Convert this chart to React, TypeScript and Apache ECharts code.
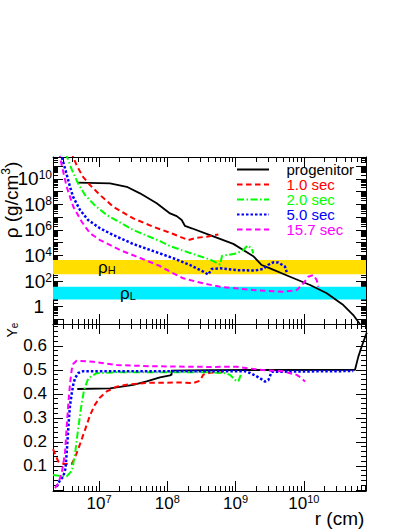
import React, { useEffect, useRef } from 'react';
import * as echarts from 'echarts';

const FONT = '"Liberation Sans", Arial, Helvetica, sans-serif';

// ---------- axis ranges (log10 r, log10 rho, Ye) ----------
const X_MIN = 6.3265;
const X_MAX = 10.909;
const RHO_MIN = -1.35;
const RHO_MAX = 11.7;
const YE_MIN = -0.005;
const YE_MAX = 0.691;

// ---------- tick labels ----------
const xLabelDecades = [7, 8, 9, 10];
const rhoLabelDecades = [0, 2, 4, 6, 8, 10];
const yeLabels = [0.1, 0.2, 0.3, 0.4, 0.5, 0.6];

// ---------- series ----------
const seriesNames = ['progenitor', '1.0 sec', '2.0 sec', '5.0 sec', '15.7 sec'];
const seriesColors = ['#000000', '#ff0000', '#00ff00', '#0000ff', '#ff00ff'];

// density panel: log10(r/cm), log10(rho/(g/cm^3))
const progenitorLogR = [6.682, 7.161, 7.406, 7.6, 7.845, 8.04, 8.138, 8.211, 8.259, 8.357, 8.625, 8.966, 9.259, 9.382, 9.504, 9.797, 10.09, 10.334, 10.577, 10.723, 10.811, 10.87];
const progenitorLogRho = [9.69, 9.64, 9.37, 8.86, 8.08, 7.29, 7.08, 6.78, 6.31, 6.13, 5.6, 4.91, 3.95, 3.26, 3.0, 2.34, 1.7, 1.05, 0.13, -0.65, -1.29, -1.88];

const t1LogR = [6.6, 6.619, 6.678, 6.766, 6.868, 7.015, 7.209, 7.502, 7.795, 8.088, 8.307, 8.43, 8.577, 8.747];
const t1LogRho = [12.12, 11.72, 10.99, 10.14, 9.51, 8.73, 7.81, 6.9, 6.25, 5.68, 5.21, 5.39, 5.47, 5.65];

const t2LogR = [6.517, 6.531, 6.605, 6.693, 6.795, 6.941, 7.113, 7.502, 7.893, 8.04, 8.332, 8.625, 8.772, 8.801, 9.016, 9.113, 9.174, 9.236, 9.259];
const t2LogRho = [12.01, 11.72, 10.68, 9.64, 8.73, 7.91, 7.17, 5.99, 5.13, 4.74, 4.2, 3.69, 3.3, 3.97, 4.17, 4.43, 4.78, 4.56, 4.17];

const t5LogR = [6.444, 6.454, 6.517, 6.561, 6.619, 6.722, 6.839, 7.015, 7.209, 7.502, 7.795, 8.088, 8.332, 8.527, 8.6, 8.65, 8.772, 9.016, 9.284, 9.401, 9.474, 9.552, 9.625, 9.723, 9.748];
const t5LogRho = [12.01, 11.72, 10.53, 9.64, 8.6, 7.56, 6.78, 6.13, 5.6, 4.9, 4.35, 3.79, 3.26, 2.74, 2.51, 2.95, 3.0, 2.86, 2.83, 2.95, 3.26, 3.47, 3.46, 3.13, 2.71];

const t15LogR = [6.42, 6.429, 6.454, 6.527, 6.624, 6.747, 6.868, 7.015, 7.307, 7.6, 7.893, 8.04, 8.234, 8.527, 8.772, 9.259, 9.698, 9.895, 9.991, 10.064, 10.138, 10.187, 10.211];
const t15LogRho = [12.12, 11.72, 11.07, 9.37, 7.81, 6.64, 5.74, 5.21, 4.43, 3.81, 3.18, 2.74, 2.22, 1.82, 1.56, 1.3, 1.17, 1.3, 1.82, 2.34, 2.48, 2.09, 1.56];

// electron fraction panel
const progenitorYeLogR = [6.682, 7.161, 7.502, 7.698, 7.893, 8.04, 8.062, 8.064, 8.625, 10.748, 10.797, 10.846, 10.92];
const progenitorYe = [0.42, 0.423, 0.437, 0.452, 0.469, 0.477, 0.48, 0.497, 0.499, 0.5, 0.555, 0.597, 0.655];

const t1YeLogR = [6.327, 6.356, 6.404, 6.477, 6.6, 6.649, 6.722, 6.795, 6.868, 6.941, 7.015, 7.113, 7.259, 7.454, 7.747, 8.186, 8.381, 8.479, 8.527, 8.625, 8.845];
const t1Ye = [0.17, 0.15, 0.118, 0.108, 0.108, 0.135, 0.19, 0.25, 0.31, 0.355, 0.385, 0.41, 0.43, 0.44, 0.446, 0.447, 0.445, 0.455, 0.48, 0.488, 0.49];

const t2YeLogR = [6.327, 6.429, 6.527, 6.605, 6.649, 6.693, 6.736, 6.78, 6.843, 6.966, 7.259, 8.625, 8.845, 8.918, 8.991, 9.04, 9.075];
const t2Ye = [0.062, 0.058, 0.056, 0.08, 0.15, 0.25, 0.34, 0.415, 0.465, 0.486, 0.49, 0.49, 0.486, 0.479, 0.458, 0.451, 0.479];

const t5YeLogR = [6.381, 6.429, 6.477, 6.51, 6.531, 6.553, 6.575, 6.6, 6.624, 6.649, 6.697, 6.766, 9.138, 9.211, 9.259, 9.357, 9.43, 9.479, 9.529, 10.723];
const t5Ye = [0.013, 0.04, 0.055, 0.09, 0.17, 0.27, 0.35, 0.4, 0.44, 0.465, 0.487, 0.494, 0.494, 0.487, 0.48, 0.465, 0.451, 0.457, 0.492, 0.495];

const t15YeLogR = [6.356, 6.404, 6.454, 6.502, 6.527, 6.551, 6.575, 6.6, 6.624, 6.673, 6.917, 7.259, 7.747, 8.625, 9.016, 9.357, 9.698, 9.797, 9.895, 9.968, 10.016];
const t15Ye = [0.007, 0.027, 0.069, 0.152, 0.263, 0.36, 0.44, 0.5, 0.525, 0.538, 0.534, 0.52, 0.515, 0.512, 0.513, 0.5, 0.494, 0.486, 0.479, 0.465, 0.451];

// resonance density bands (log10 rho)
const bandNames = ['H', 'L'];
const bandLow = [2.53, 0.57];
const bandHigh = [3.65, 1.56];
const bandColors = ['#ffde00', '#00eeff'];

const rhoR = [progenitorLogR, t1LogR, t2LogR, t5LogR, t15LogR];
const rhoV = [progenitorLogRho, t1LogRho, t2LogRho, t5LogRho, t15LogRho];
const yeR = [progenitorYeLogR, t1YeLogR, t2YeLogR, t5YeLogR, t15YeLogR];
const yeV = [progenitorYe, t1Ye, t2Ye, t5Ye, t15Ye];

const dashes: any[] = ['solid', [5.5, 3.5], [7, 2.5, 1.5, 2.5], [2.5, 2], [5.5, 3.5]];
const widths = [1.8, 2, 2, 2.5, 2];

const zip = (a: number[], b: number[]) => a.map((v, i) => [v, b[i]]);

function logMinors(from: number, to: number, lo: number, hi: number) {
  const out: number[] = [];
  for (let n = from; n <= to; n++) {
    for (let k = 2; k <= 9; k++) {
      const v = n + Math.log10(k);
      if (v > lo && v < hi) out.push(v);
    }
  }
  return out;
}
function ints(from: number, to: number, lo: number, hi: number) {
  const out: number[] = [];
  for (let n = from; n <= to; n++) if (n >= lo && n <= hi) out.push(n);
  return out;
}

const xMajor = ints(6, 11, X_MIN, X_MAX);
const xMinor = logMinors(6, 10, X_MIN, X_MAX);
const rhoMajor = ints(-2, 12, RHO_MIN, RHO_MAX);
const rhoMinor = logMinors(-2, 11, RHO_MIN, RHO_MAX);
const yeMajor = [0, 0.1, 0.2, 0.3, 0.4, 0.5, 0.6];
const yeMinor: number[] = [];
for (let i = 1; i <= 34; i++) if (i % 5 !== 0) yeMinor.push(+(i * 0.02).toFixed(2));

const BLACK = { color: '#000', width: 1 };

function axisSet(kind: 'x' | 'y', grid: number, min: number, max: number, major: number[], minor: number[], primary: any) {
  const pos = kind === 'x' ? ['bottom', 'top'] : ['left', 'right'];
  const base = {
    type: 'value',
    gridIndex: grid,
    min,
    max,
    splitLine: { show: false },
    minorTick: { show: false },
    nameMoveOverlap: false,
  };
  const res: any[] = [];
  pos.forEach((p, i) => {
    res.push({
      ...base,
      position: p,
      axisLine: { show: true, onZero: false, lineStyle: BLACK },
      axisTick: { show: true, inside: true, length: 10, customValues: major, lineStyle: BLACK },
      axisLabel: { show: false },
      ...(i === 0 ? primary : {}),
    });
    res.push({
      ...base,
      position: p,
      axisLine: { show: false, onZero: false },
      axisTick: { show: true, inside: true, length: 5, customValues: minor, lineStyle: BLACK },
      axisLabel: { show: false },
    });
  });
  return res;
}

export default function App() {
  const ref = useRef<HTMLDivElement>(null);
  useEffect(() => {
    if (!ref.current) return;
    const chart = echarts.init(ref.current, undefined, { renderer: 'svg' });

    const xAxes = [
      ...axisSet('x', 0, X_MIN, X_MAX, xMajor, xMinor, {}),
      ...axisSet('x', 1, X_MIN, X_MAX, xMajor, xMinor, {
        axisLabel: {
          show: true,
          showMinLabel: true,
          showMaxLabel: true,
          customValues: xLabelDecades,
          margin: 2,
          formatter: (v: number) => '{b|10}{s|' + Math.round(v) + '}',
          rich: {
            b: { fontFamily: FONT, fontSize: 17, lineHeight: 17, color: '#000', padding: [4, 0, 0, 0] },
            s: { fontFamily: FONT, fontSize: 11, lineHeight: 11, color: '#000', verticalAlign: 'top' },
          },
        },
        name: 'r (cm)',
        nameLocation: 'middle',
        nameGap: 19,
        nameTextStyle: { fontFamily: FONT, fontSize: 19, color: '#000', lineHeight: 16, padding: [0, 0, 0, 260] },
      }),
    ];

    const yAxes = [
      ...axisSet('y', 0, RHO_MIN, RHO_MAX, rhoMajor, rhoMinor, {
        axisLabel: {
          show: true,
          showMinLabel: true,
          showMaxLabel: true,
          customValues: rhoLabelDecades,
          margin: 1,
          formatter: (v: number) => (Math.round(v) === 0 ? '{o|1}' : '{b|10}{s|' + Math.round(v) + '}'),
          rich: {
            b: { fontFamily: FONT, fontSize: 19, lineHeight: 19, color: '#000', padding: [3, 0, 3, 0] },
            s: { fontFamily: FONT, fontSize: 12, lineHeight: 12, color: '#000', verticalAlign: 'top' },
            o: { fontFamily: FONT, fontSize: 19, lineHeight: 19, color: '#000', padding: [3, 8, 3, 0] },
          },
        },
        name: '{t|ρ (g/cm}{u|3}{t|)}',
        nameLocation: 'middle',
        nameRotate: 90,
        nameGap: 34,
        nameTextStyle: {
          padding: [0, 0, 0, 81],
          rich: {
            t: { fontFamily: FONT, fontSize: 19, lineHeight: 19, color: '#000', padding: [3, 0, 0, 0] },
            u: { fontFamily: FONT, fontSize: 12, lineHeight: 12, color: '#000', verticalAlign: 'top' },
          },
        },
      }),
      ...axisSet('y', 1, YE_MIN, YE_MAX, yeMajor, yeMinor, {
        axisLabel: {
          show: true,
          showMinLabel: true,
          showMaxLabel: true,
          customValues: yeLabels,
          margin: 6,
          fontFamily: FONT,
          fontSize: 17,
          color: '#000',
          formatter: (v: number) => v.toFixed(1),
        },
        name: '{y|Y}{e|e}',
        nameLocation: 'middle',
        nameRotate: 90,
        nameGap: 34,
        nameTextStyle: {
          padding: [0, 0, 0, 155],
          rich: {
            y: { fontFamily: FONT, fontSize: 14, lineHeight: 14, color: '#000' },
            e: { fontFamily: FONT, fontSize: 10, lineHeight: 10, color: '#000', verticalAlign: 'bottom', padding: [9, 0, 0, 0] },
          },
        },
      }),
    ];

    const series: any[] = [
      {
        name: 'bands',
        type: 'line',
        xAxisIndex: 0,
        yAxisIndex: 0,
        data: [],
        z: 1,
        silent: true,
        markArea: {
          silent: true,
          data: bandNames.map((n, i) => [
            {
              yAxis: bandLow[i],
              itemStyle: { color: bandColors[i], opacity: 1 },
              label: {
                show: true,
                position: 'insideLeft',
                distance: i === 0 ? 45 : 67,
                formatter: '{r|ρ}{s|' + n + '}',
                rich: {
                  r: { fontFamily: FONT, fontSize: 17, lineHeight: 17, color: '#000' },
                  s: { fontFamily: FONT, fontSize: 11, lineHeight: 11, color: '#000', verticalAlign: 'bottom', padding: [9, 0, 0, 0] },
                },
              },
            },
            { yAxis: bandHigh[i] },
          ]),
        },
      },
    ];

    seriesNames.forEach((name, i) => {
      const common = {
        name,
        type: 'line',
        symbol: 'none',
        showSymbol: false,
        silent: true,
        clip: true,
        z: 3,
        itemStyle: { color: seriesColors[i], opacity: 0 },
        lineStyle: { color: seriesColors[i], width: widths[i], type: dashes[i], cap: 'butt', join: 'round' },
      };
      series.push({ ...common, xAxisIndex: 0, yAxisIndex: 0, data: zip(rhoR[i], rhoV[i]) });
      series.push({ ...common, xAxisIndex: 4, yAxisIndex: 4, data: zip(yeR[i], yeV[i]) });
    });

    chart.setOption({
      animation: false,
      backgroundColor: '#ffffff',
      textStyle: { fontFamily: FONT },
      grid: [
        { left: 53, top: 157, width: 313, height: 167, containLabel: false, outerBoundsMode: 'none' },
        { left: 53, top: 324, width: 313, height: 167, containLabel: false, outerBoundsMode: 'none' },
      ],
      legend: {
        left: 236,
        top: 162,
        orient: 'vertical',
        padding: 0,
        itemWidth: 32,
        itemHeight: 12.8,
        itemGap: 0,
        selectedMode: false,
        itemStyle: { opacity: 0 },
        textStyle: { fontFamily: FONT, fontSize: 15, lineHeight: 12.8, padding: [-5, 0, 5, 12.5] },
        data: seriesNames.map((n, i) => ({ name: n, textStyle: { color: seriesColors[i] } })),
      },
      xAxis: xAxes,
      yAxis: yAxes,
      series,
    });
    return () => chart.dispose();
  }, []);
  return <div ref={ref} style={{ position: 'absolute', left: 0, top: 0, width: 409, height: 529 }} />;
}
